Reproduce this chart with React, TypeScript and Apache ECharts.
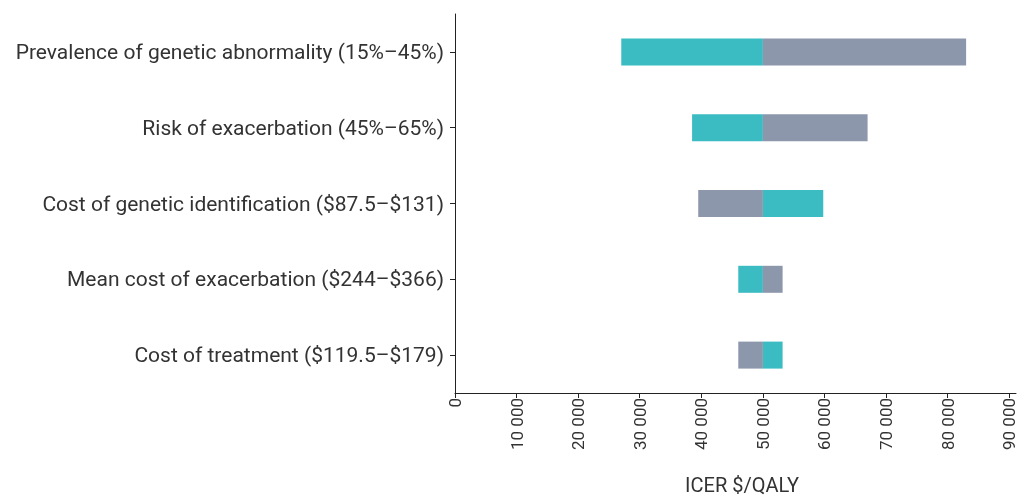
import React, { useEffect, useRef } from "react";
import * as echarts from "echarts";

const categories = [
  "Prevalence of genetic abnormality (15%–45%)",
  "Risk of exacerbation (45%–65%)",
  "Cost of genetic identification ($87.5–$131)",
  "Mean cost of exacerbation ($244–$366)",
  "Cost of treatment ($119.5–$179)",
];
const baseCase = 50000;
// ICER at the two ends of each parameter's range
const tealValues = [27000, 38500, 59800, 46000, 53200];
const greyValues = [83000, 67000, 39500, 53200, 46000];
const xTickValues = [0, 10000, 20000, 30000, 40000, 50000, 60000, 70000, 80000, 90000];
const xAxisMax = 91100;

const TEAL = "#3bbcc2";
const GREY = "#8d97ab";
const FONT = "Roboto";

export default function App() {
  const ref = useRef<HTMLDivElement>(null);
  useEffect(() => {
    if (!ref.current) return;
    const chart = echarts.init(ref.current, undefined, { renderer: "svg" });
    const renderItem = (params: any, api: any) => {
      const cat = api.value(0);
      const a = api.coord([api.value(1), cat]);
      const b = api.coord([api.value(2), cat]);
      const h = 27;
      const x0 = Math.min(a[0], b[0]);
      return {
        type: "rect",
        shape: { x: x0, y: a[1] - h / 2, width: Math.abs(b[0] - a[0]), height: h },
        style: { fill: api.visual("color") },
      };
    };
    const fmt = (v: number) => String(v).replace(/\B(?=(\d{3})+(?!\d))/g, " ");
    chart.setOption({
      animation: false,
      grid: {
        left: 455,
        right: 19,
        top: 14,
        bottom: 104,
        containLabel: false,
        outerBoundsMode: "none",
      },
      xAxis: {
        type: "value",
        min: 0,
        max: xAxisMax,
        name: "ICER $/QALY",
        nameLocation: "middle",
        nameGap: 82,
        nameTextStyle: { fontFamily: FONT, fontSize: 20, color: "#333", padding: [0, 0, 0, 13] },
        axisLine: { show: true, lineStyle: { color: "#222", width: 1 } },
        axisTick: {
          show: true,
          length: 5,
          customValues: xTickValues,
          lineStyle: { color: "#222" },
        },
        axisLabel: {
          rotate: 90,
          margin: 5,
          fontFamily: FONT,
          fontSize: 17,
          color: "#333",
          customValues: xTickValues,
          formatter: fmt,
        },
        splitLine: { show: false },
      },
      yAxis: {
        type: "category",
        data: categories,
        inverse: true,
        axisLine: { show: true, lineStyle: { color: "#222", width: 1 } },
        axisTick: { show: true, alignWithLabel: true, length: 5, lineStyle: { color: "#222" } },
        axisLabel: { margin: 11, fontFamily: FONT, fontSize: 21, color: "#333" },
      },
      series: [
        {
          name: "Teal",
          type: "custom",
          renderItem,
          itemStyle: { color: TEAL },
          encode: { x: [1, 2], y: 0 },
          data: tealValues.map((v, i) => [i, baseCase, v]),
        },
        {
          name: "Grey",
          type: "custom",
          renderItem,
          itemStyle: { color: GREY },
          encode: { x: [1, 2], y: 0 },
          data: greyValues.map((v, i) => [i, baseCase, v]),
        },
      ],
    });
    return () => chart.dispose();
  }, []);
  return (
    <div
      ref={ref}
      style={{ position: "fixed", left: 0, top: 0, width: 1035, height: 497 }}
    />
  );
}
